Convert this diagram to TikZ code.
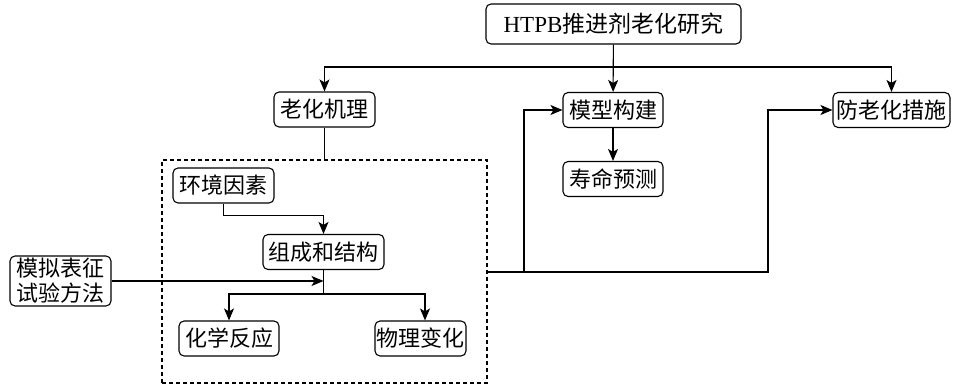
\documentclass[tikz,border=0pt]{standalone}
\usepackage{fontspec}
\setmainfont{Liberation Serif}
\newfontfamily\cjk{Noto Sans CJK SC}
\usetikzlibrary{arrows.meta}
\begin{document}
\begin{tikzpicture}[x=1pt,y=-1pt,
  box/.style={draw, rounded corners=5pt, line width=1.1pt, inner sep=0pt,
    minimum height=35pt, font=\cjk\fontsize{22}{25}\selectfont},
  ln/.style={line width=1.1pt},
  arr/.style={ln, -{Stealth[length=12pt,width=10pt,inset=3pt]}}]
\useasboundingbox (0,0) rectangle (954,385);

% boxes
\node[box, minimum width=255pt, minimum height=40pt, font=\fontsize{23}{26}\selectfont]
  (top) at (613.5,24) {HTPB{\cjk 推进剂老化研究}};
\node[box, minimum width=101pt] (jl) at (324.5,109.5) {老化机理};
\node[box, minimum width=100pt] (mx) at (613,110) {模型构建};
\node[box, minimum width=100pt] (sm) at (613,179) {寿命预测};
\node[box, minimum width=117pt] (flh) at (891.5,110) {防老化措施};

\node[draw, dashed, dash pattern=on 4pt off 3pt, line width=1.1pt,
  minimum width=325pt, minimum height=223pt, inner sep=0pt] (frame) at (324.5,271.5) {};

\node[box, minimum width=101pt] (hj) at (223.5,185.5) {环境因素};
\node[box, minimum width=121pt] (zc) at (323.5,252) {组成和结构};
\node[box, minimum width=101pt, minimum height=50pt, align=center] (mn) at (60.5,281)
  {模拟表征\\试验方法};
\node[box, minimum width=100pt] (hx) at (229,338.5) {化学反应};
\node[box, minimum width=91pt] (wl) at (420.5,338.5) {物理变化};

% junction points
\coordinate (bus) at (613.5,67);
\coordinate (split) at (323.5,294);
\coordinate (j1) at (524,272);
\coordinate (j2) at (768,272);

% connectors
\draw[arr] (top) -- (mx);
\draw[arr] (bus) -| (jl.north);
\draw[arr] (bus) -| (flh.north);
\draw[ln] (jl.south) -- (jl.south |- frame.north);
\draw[arr] (mx) -- (sm);
\draw[arr] (hj.south) -- ++(0,12) -| (zc.north);
\draw[ln] (zc.south) -- (split);
\draw[arr] (mn.east) -- (mn.east -| zc.south);
\draw[arr] (split) -| (hx.north);
\draw[arr] (split) -| ([xshift=4.5pt]wl.north);
\draw[ln] (frame.east |- j1) -- (j1);
\draw[arr] (j1) |- (mx.west);
\draw[arr] (j1) -- (j2) |- (flh.west);
\end{tikzpicture}
\end{document}
